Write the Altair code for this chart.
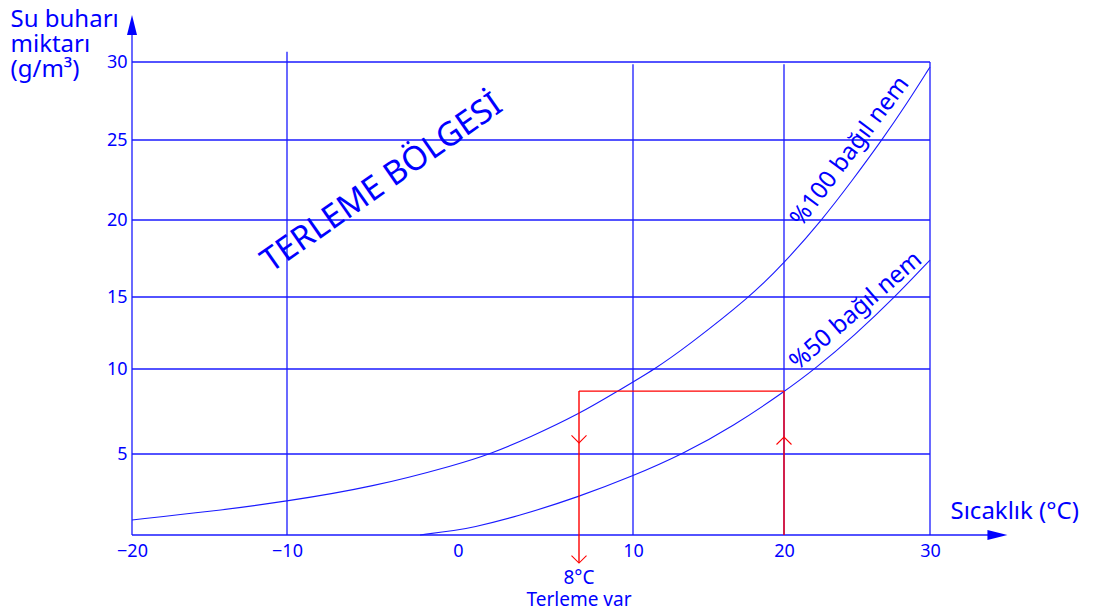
import altair as alt
import pandas as pd

BLUE = "#0000ff"
LINE = "#1a1aff"
RED = "#ff0000"
FONT = "Noto Sans"

# non-uniform axes of the original drawing (piecewise scale breakpoints)
x_breaks = [-20, -10, 0, 8, 10, 20, 30]
x_range = [0, 155, 326, 447, 501, 652, 798]
y_breaks = [0, 5, 10, 15, 20, 25, 30]
y_range = [473, 392, 307, 235, 158, 78, 0]

x_ticks = [-20, -10, 0, 10, 20, 30]
y_ticks = [5, 10, 15, 20, 25, 30]

# vertical grid lines and their tops
vgrid_x = [-10, 10, 20, 30]
vgrid_top = [30.65, 29.85, 29.85, 30]

# %100 relative humidity curve
rh100_t = [-20, -15, -10, -5, 0, 2.12, 4.76, 8, 9.44, 11.46, 13.55, 17.75, 20, 22.6, 24.7, 26.71, 28.4, 30]
rh100_v = [0.93, 1.44, 2.08, 2.96, 4.36, 5.0, 5.98, 7.35, 8.71, 10, 11.55, 15, 17.19, 20, 22.5, 25, 27.31, 29.68]

# %50 relative humidity curve
rh50_t = [-2.22, 0, 0.79, 3.88, 8, 10, 13.31, 16.66, 20, 22.12, 24.86, 27.6, 30]
rh50_v = [0, 0.31, 0.43, 1.13, 2.36, 3.64, 5.0, 6.65, 8.65, 10, 12.36, 15, 17.4]

# red dew-point construction
air_temp = 20
dew_temp = 8
vapour = 8.7
red_bottom = -1.73
arrow_down_y = [5.65, -1.73]
arrow_up_y = [6.0]

# axis arrows
y_axis_top = 32
y_arrow_at = 32.37
x_axis_end = 34
x_arrow_at = 34.62

xs = alt.Scale(domain=x_breaks, range=x_range, nice=False, zero=False)
ys = alt.Scale(domain=y_breaks, range=y_range, nice=False, zero=False)

xaxis = alt.Axis(
    values=x_ticks, domain=False, ticks=False, grid=False,
    labelFont=FONT, labelFontSize=18, labelColor=BLUE, labelPadding=7,
    labelFlush=False, labelOverlap=False, labelBound=False,
    title="Sıcaklık (°C)", titleFont=FONT, titleFontSize=24, titleFontWeight="normal",
    titleColor=BLUE, titleAlign="left", titleBaseline="alphabetic",
    titleX=818, titleY=-17,
)
yaxis = alt.Axis(
    values=y_ticks, domain=False, ticks=False, grid=False,
    labelFont=FONT, labelFontSize=18, labelColor=BLUE, labelPadding=5,
    labelOverlap=False, labelBound=False,
    title=["Su buharı", "miktarı", "(g/m³)"], titleFont=FONT, titleFontSize=24,
    titleFontWeight="normal", titleColor=BLUE, titleAngle=0, titleAlign="left",
    titleBaseline="top", titleX=-122, titleY=-55, titleLineHeight=25,
)


def X(f):
    return alt.X(f"{f}:Q", scale=xs, axis=xaxis)


def Y(f):
    return alt.Y(f"{f}:Q", scale=ys, axis=yaxis)


hgrid = alt.Chart(pd.DataFrame({"y": y_ticks, "x0": -20, "x1": 30})).mark_rule(
    color=LINE, strokeWidth=1.3).encode(x=X("x0"), x2="x1", y=Y("y"))

vgrid = alt.Chart(pd.DataFrame({"x": vgrid_x, "y0": 0, "y1": vgrid_top})).mark_rule(
    color=LINE, strokeWidth=1.3).encode(x=X("x"), y=Y("y0"), y2="y1")

axes_df = pd.DataFrame({
    "x0": [-20, -20], "x1": [x_axis_end, -20],
    "y0": [0, 0], "y1": [0, y_axis_top],
})
axes = alt.Chart(axes_df).mark_rule(color=LINE, strokeWidth=1.3).encode(
    x=X("x0"), x2="x1", y=Y("y0"), y2="y1")

yarrow = alt.Chart(pd.DataFrame({"x": [-20], "y": [y_arrow_at]})).mark_point(
    shape="M0,-1L0.5,1L-0.5,1Z", size=400, filled=True, color=BLUE, opacity=1
).encode(x=X("x"), y=Y("y"))
xarrow = alt.Chart(pd.DataFrame({"x": [x_arrow_at], "y": [0]})).mark_point(
    shape="M1,0L-1,-0.5L-1,0.5Z", size=400, filled=True, color=BLUE, opacity=1
).encode(x=X("x"), y=Y("y"))

curves_df = pd.concat([
    pd.DataFrame({"t": rh100_t, "v": rh100_v, "s": "100"}),
    pd.DataFrame({"t": rh50_t, "v": rh50_v, "s": "50"}),
])
curves = alt.Chart(curves_df).mark_line(
    color=LINE, strokeWidth=1.1, interpolate="basis").encode(
    x=X("t"), y=Y("v"), detail="s:N")

red_df = pd.DataFrame({
    "x0": [air_temp, air_temp, dew_temp],
    "x1": [air_temp, dew_temp, dew_temp],
    "y0": [0, vapour, vapour],
    "y1": [vapour, vapour, red_bottom],
})
red = alt.Chart(red_df).mark_rule(color=RED, strokeWidth=1.4).encode(
    x=X("x0"), x2="x1", y=Y("y0"), y2="y1")

down_heads = alt.Chart(pd.DataFrame({"x": dew_temp, "y": arrow_down_y})).mark_point(
    shape="M-1,-1L0,0L1,-1", size=225, filled=False, color=RED, strokeWidth=1.1, opacity=1
).encode(x=X("x"), y=Y("y"))
up_heads = alt.Chart(pd.DataFrame({"x": air_temp, "y": arrow_up_y})).mark_point(
    shape="M-1,1L0,0L1,1", size=225, filled=False, color=RED, strokeWidth=1.1, opacity=1
).encode(x=X("x"), y=Y("y"))


def label(txt, x, y, angle=0, size=22):
    kw = dict(font=FONT, fontSize=size, color=BLUE, align="center", baseline="middle")
    if angle:
        kw["angle"] = angle
    return alt.Chart(pd.DataFrame({"x": [x], "y": [y], "t": [txt]})).mark_text(**kw).encode(
        x=X("x"), y=Y("y"), text="t:N")


zone = label("TERLEME BÖLGESİ", -4.45, 22.3, angle=325, size=33)
lab100 = label("%100 bağıl nem", 24.52, 24.28, angle=307, size=24)
lab50 = label("%50 bağıl nem", 24.93, 14.03, angle=319, size=24)
lab8 = label("8°C", dew_temp, -2.65, size=19)
labvar = label("Terleme var", dew_temp, -4.0, size=19)

chart = alt.layer(
    hgrid, vgrid, axes, yarrow, xarrow, curves, red, down_heads, up_heads,
    zone, lab100, lab50, lab8, labvar,
).properties(
    width=798, height=473,
    autosize=alt.AutoSizeParams(type="none"),
    padding={"left": 124, "top": 54, "right": 156, "bottom": 76},
    background="white",
).configure_view(stroke=None)

chart.save("out.html", embed_options={"renderer": "svg", "actions": False})
